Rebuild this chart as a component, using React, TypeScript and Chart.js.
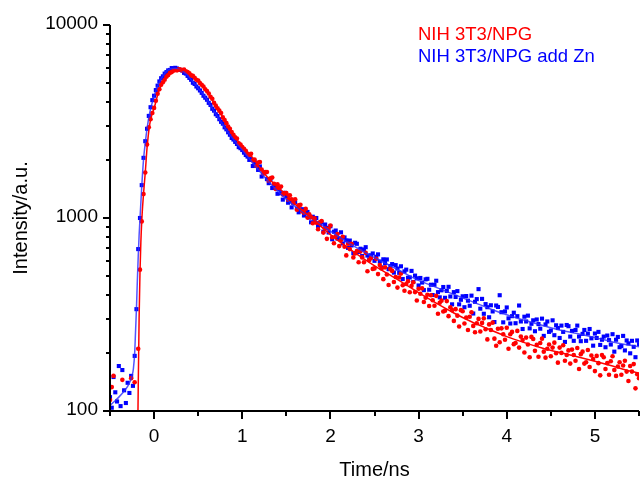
import { useEffect, useRef } from 'react';
import { Chart, registerables } from 'chart.js';
Chart.register(...registerables);

// Time grid of the measured points (ns)
const T_START = -0.5;
const T_STEP = 0.02;

// NIH 3T3/NPG measured counts
const RED_COUNTS = [
  114, 133, 152, 90, 85, 80, 95, 145, 88, 92,
  84, 90, 148, 95, 141, 98, 210, 540, 960, 1330,
  1720, 2400, 2950, 3250, 3500, 3720, 4050, 4400, 4650, 4900,
  5050, 5200, 5400, 5500, 5650, 5700, 5800, 5850, 5820, 5900,
  5870, 5820, 5880, 5750, 5700, 5620, 5480, 5450, 5330, 5200,
  5150, 5000, 4900, 4800, 4650, 4550, 4420, 4250, 4150, 3950,
  3820, 3700, 3600, 3500, 3320, 3220, 3100, 2980, 2900, 2790,
  2700, 2620, 2580, 2440, 2400, 2330, 2280, 2230, 2150, 2120,
  2150, 1985, 2010, 1860, 1940, 1950, 1785, 1695, 1730, 1730,
  1560, 1605, 1620, 1505, 1415, 1495, 1430, 1455, 1325, 1345,
  1345, 1245, 1310, 1250, 1195, 1250, 1105, 1165, 1170, 1080,
  1065, 1115, 1005, 1045, 1010, 940, 995, 945, 875, 950,
  965, 840, 885, 780, 880, 915, 795, 740, 805, 825,
  715, 770, 800, 710, 640, 735, 690, 735, 625, 655,
  675, 590, 670, 625, 590, 660, 530, 605, 620, 545,
  548, 615, 512, 570, 548, 482, 555, 510, 450, 545,
  532, 466, 495, 436, 492, 515, 448, 420, 455, 470,
  412, 445, 465, 413, 374, 430, 405, 432, 367, 386,
  400, 350, 398, 375, 351, 395, 319, 364, 373, 328,
  331, 371, 310, 345, 333, 293, 337, 312, 274, 333,
  329, 284, 305, 263, 308, 325, 276, 256, 285, 300,
  258, 286, 302, 265, 235, 281, 263, 287, 237, 218,
  267, 227, 268, 250, 234, 270, 210, 250, 257, 222,
  225, 260, 213, 243, 233, 201, 240, 221, 190, 242,
  236, 205, 220, 191, 225, 237, 203, 189, 210, 221,
  192, 213, 226, 199, 178, 213, 200, 219, 182, 195,
  206, 176, 208, 195, 182, 212, 165, 197, 203, 176,
  179, 207, 169, 194, 186, 161, 193, 177, 153, 195,
  190, 165, 177, 154, 181, 192, 163, 152, 170, 179,
  154, 172, 182, 160, 143, 171, 160, 175, 131, 155,
  148,
];

// NIH 3T3/NPG add Zn measured counts
const BLUE_COUNTS = [
  118, 104, 150, 125, 112, 171, 106, 163, 128, 110,
  140, 124, 152, 135, 193, 337, 690, 1000, 1480, 2050,
  2500, 2900, 3380, 3750, 4080, 4300, 4600, 4850, 5100, 5300,
  5420, 5600, 5700, 5820, 5850, 5980, 5920, 6000, 5950, 5880,
  5850, 5800, 5650, 5600, 5450, 5320, 5200, 5020, 4950, 4800,
  4700, 4580, 4450, 4300, 4200, 4100, 3950, 3850, 3680, 3600,
  3450, 3380, 3250, 3150, 3080, 2950, 2880, 2780, 2700, 2600,
  2550, 2480, 2420, 2330, 2300, 2250, 2180, 2120, 2080, 2000,
  2020, 1860, 1945, 1860, 1775, 1850, 1640, 1725, 1725, 1590,
  1515, 1585, 1430, 1490, 1445, 1335, 1415, 1345, 1245, 1350,
  1295, 1200, 1220, 1135, 1195, 1210, 1115, 1070, 1105, 1110,
  1030, 1060, 1075, 1005, 950, 1015, 975, 1000, 910, 925,
  948, 850, 925, 889, 841, 906, 776, 849, 861, 782,
  784, 843, 738, 793, 766, 700, 764, 721, 658, 744,
  735, 667, 693, 635, 687, 706, 639, 610, 641, 655,
  600, 630, 648, 595, 555, 611, 584, 610, 543, 563,
  577, 521, 570, 547, 520, 562, 483, 529, 540, 490,
  492, 532, 466, 503, 487, 447, 489, 463, 423, 481,
  484, 425, 451, 399, 451, 473, 413, 388, 422, 439,
  386, 419, 440, 392, 357, 413, 390, 418, 357, 377,
  393, 345, 394, 373, 351, 396, 320, 368, 380, 428,
  339, 381, 319, 358, 345, 306, 353, 328, 289, 352,
  346, 398, 325, 288, 328, 344, 302, 284, 310, 323,
  285, 310, 352, 291, 266, 308, 291, 312, 268, 283,
  295, 259, 298, 282, 267, 301, 245, 281, 291, 257,
  261, 295, 247, 278, 269, 239, 277, 257, 228, 279,
  275, 243, 260, 231, 263, 277, 243, 230, 251, 263,
  231, 252, 266, 238, 218, 252, 239, 257, 220, 234,
  243, 214, 246, 233, 221, 250, 203, 234, 242, 214,
  217, 245, 206, 232, 224, 199, 231, 215, 190, 232,
  222,
];

// Fit curves
const RED_FIT_T = [-0.185, -0.18, -0.17, -0.16, -0.15, -0.14, -0.13, -0.12, -0.1, -0.08, -0.05, -0.02, 0, 0.05, 0.1, 0.15, 0.2, 0.25, 0.3, 0.35, 0.4, 0.5, 0.6, 0.7, 0.8, 0.9, 1.0, 1.1, 1.2, 1.3, 1.4, 1.5, 1.6, 1.7, 1.8, 1.9, 2.0, 2.2, 2.4, 2.6, 2.8, 3.0, 3.2, 3.4, 3.6, 3.8, 4.0, 4.2, 4.4, 4.6, 4.8, 5.0, 5.2, 5.4, 5.5];
const RED_FIT = [80, 130, 300, 520, 750, 960, 1150, 1330, 1720, 2300, 3050, 3500, 3700, 4500, 5050, 5450, 5750, 5850, 5850, 5800, 5600, 5150, 4550, 3800, 3200, 2700, 2350, 2100, 1820, 1600, 1450, 1320, 1180, 1080, 990, 900, 820, 700, 605, 530, 468, 410, 362, 322, 290, 265, 243, 226, 212, 201, 191, 181, 171, 161, 157];

const BLUE_FIT_T = [-0.5, -0.45, -0.4, -0.35, -0.3, -0.27, -0.25, -0.235, -0.22, -0.21, -0.2, -0.19, -0.18, -0.17, -0.16, -0.15, -0.14, -0.12, -0.1, -0.08, -0.05, 0, 0.05, 0.1, 0.15, 0.2, 0.25, 0.3, 0.35, 0.4, 0.5, 0.6, 0.7, 0.8, 0.9, 1.0, 1.1, 1.2, 1.3, 1.4, 1.5, 1.6, 1.7, 1.8, 1.9, 2.0, 2.2, 2.4, 2.6, 2.8, 3.0, 3.2, 3.4, 3.6, 3.8, 4.0, 4.2, 4.4, 4.6, 4.8, 5.0, 5.2, 5.4, 5.5];
const BLUE_FIT = [107, 112, 118, 125, 134, 143, 152, 165, 200, 260, 340, 470, 630, 810, 990, 1200, 1450, 2000, 2450, 2900, 3500, 4280, 4950, 5450, 5800, 5950, 5950, 5850, 5650, 5350, 4700, 4100, 3450, 2950, 2550, 2250, 1980, 1740, 1540, 1380, 1250, 1150, 1060, 990, 920, 855, 745, 660, 590, 530, 475, 437, 402, 370, 340, 315, 295, 278, 263, 252, 240, 228, 219, 215];

const X_MIN = -0.5;
const X_MAX = 5.5;
const Y_MIN = 100;
const Y_MAX = 10000;
const X_MAJOR = [0, 1, 2, 3, 4, 5];
const X_MINOR = [-0.5, 0.5, 1.5, 2.5, 3.5, 4.5, 5.5];
const Y_MAJOR = [100, 1000, 10000];
const Y_MINOR = [200, 300, 400, 500, 600, 700, 800, 900, 2000, 3000, 4000, 5000, 6000, 7000, 8000, 9000];

const SERIES_NAMES = ['NIH 3T3/NPG', 'NIH 3T3/NPG add Zn'];
const X_TITLE = 'Time/ns';
const Y_TITLE = 'Intensity/a.u.';

const RED = '#ff0000';
const BLUE = '#0000ff';
const FONT = '"Liberation Sans", Arial, sans-serif';

const toPoints = (vals: number[]) => vals.map((v, i) => ({ x: T_START + i * T_STEP, y: v }));
const zip = (t: number[], v: number[]) => t.map((x, i) => ({ x, y: v[i] }));

const axesPlugin = {
  id: 'originAxes',
  afterDraw(chart: any) {
    const { ctx, chartArea: a, scales } = chart;
    const x = scales.x;
    const y = scales.y;
    ctx.save();
    ctx.strokeStyle = '#000';
    ctx.fillStyle = '#000';
    ctx.lineWidth = 2;
    ctx.beginPath();
    ctx.moveTo(a.left, a.top);
    ctx.lineTo(a.left, a.bottom);
    ctx.lineTo(a.right, a.bottom);
    ctx.stroke();
    ctx.beginPath();
    for (const v of X_MAJOR) {
      const px = Math.round(x.getPixelForValue(v));
      ctx.moveTo(px, a.bottom);
      ctx.lineTo(px, a.bottom + 8);
    }
    for (const v of X_MINOR) {
      const px = Math.round(x.getPixelForValue(v));
      ctx.moveTo(px, a.bottom);
      ctx.lineTo(px, a.bottom + 5);
    }
    for (const v of Y_MAJOR) {
      const py = Math.round(y.getPixelForValue(v));
      ctx.moveTo(a.left, py);
      ctx.lineTo(a.left - 7, py);
    }
    for (const v of Y_MINOR) {
      const py = Math.round(y.getPixelForValue(v));
      ctx.moveTo(a.left, py);
      ctx.lineTo(a.left - 4, py);
    }
    ctx.stroke();

    ctx.font = `19px ${FONT}`;
    ctx.textAlign = 'center';
    ctx.textBaseline = 'middle';
    for (const v of X_MAJOR) {
      ctx.fillText(String(v), x.getPixelForValue(v), a.bottom + 26);
    }
    ctx.textAlign = 'right';
    for (const v of Y_MAJOR) {
      ctx.fillText(String(v), a.left - 12, y.getPixelForValue(v) - 1);
    }

    ctx.font = `20px ${FONT}`;
    ctx.textAlign = 'center';
    ctx.textBaseline = 'alphabetic';
    ctx.fillText(X_TITLE, (a.left + a.right) / 2, 476);
    ctx.save();
    ctx.translate(27, (a.top + a.bottom) / 2);
    ctx.rotate(-Math.PI / 2);
    ctx.fillText(Y_TITLE, 0, 0);
    ctx.restore();

    ctx.font = `18.5px ${FONT}`;
    ctx.textAlign = 'left';
    ctx.fillStyle = RED;
    ctx.fillText(SERIES_NAMES[0], 418, 40);
    ctx.fillStyle = BLUE;
    ctx.fillText(SERIES_NAMES[1], 418, 62);
    ctx.restore();
  },
};

export default function App() {
  const ref = useRef<HTMLCanvasElement>(null);
  useEffect(() => {
    document.body.style.margin = '0';
    const chart = new Chart(ref.current!, {
      type: 'scatter',
      data: {
        datasets: [
          {
            label: SERIES_NAMES[0] + ' fit',
            data: zip(RED_FIT_T, RED_FIT),
            showLine: true,
            borderColor: RED,
            borderWidth: 1.5,
            pointRadius: 0,
            cubicInterpolationMode: 'monotone',
            order: 0,
          },
          {
            label: SERIES_NAMES[1] + ' fit',
            data: zip(BLUE_FIT_T, BLUE_FIT),
            showLine: true,
            borderColor: 'rgba(40,40,255,0.8)',
            borderWidth: 1.5,
            pointRadius: 0,
            cubicInterpolationMode: 'monotone',
            order: 1,
          },
          {
            label: SERIES_NAMES[0],
            data: toPoints(RED_COUNTS),
            showLine: false,
            pointStyle: 'circle',
            pointRadius: 2.3,
            pointBorderWidth: 0,
            backgroundColor: RED,
            borderColor: RED,
            order: 2,
          },
          {
            label: SERIES_NAMES[1],
            data: toPoints(BLUE_COUNTS),
            showLine: false,
            pointStyle: 'rect',
            pointRadius: 2.9,
            pointBorderWidth: 0,
            backgroundColor: BLUE,
            borderColor: BLUE,
            order: 3,
          },
        ],
      },
      options: {
        responsive: false,
        animation: false,
        devicePixelRatio: 1,
        layout: { padding: { left: 110, top: 25, right: 0, bottom: 68 } },
        scales: {
          x: { type: 'linear', min: X_MIN, max: X_MAX, display: false },
          y: { type: 'logarithmic', min: Y_MIN, max: Y_MAX, display: false },
        },
        plugins: { legend: { display: false }, tooltip: { enabled: false } },
      },
      plugins: [axesPlugin],
    } as any);
    return () => chart.destroy();
  }, []);
  return (
    <div style={{ width: 643, height: 479, background: '#fff' }}>
      <canvas ref={ref} width={643} height={479} style={{ display: 'block' }} />
    </div>
  );
}
